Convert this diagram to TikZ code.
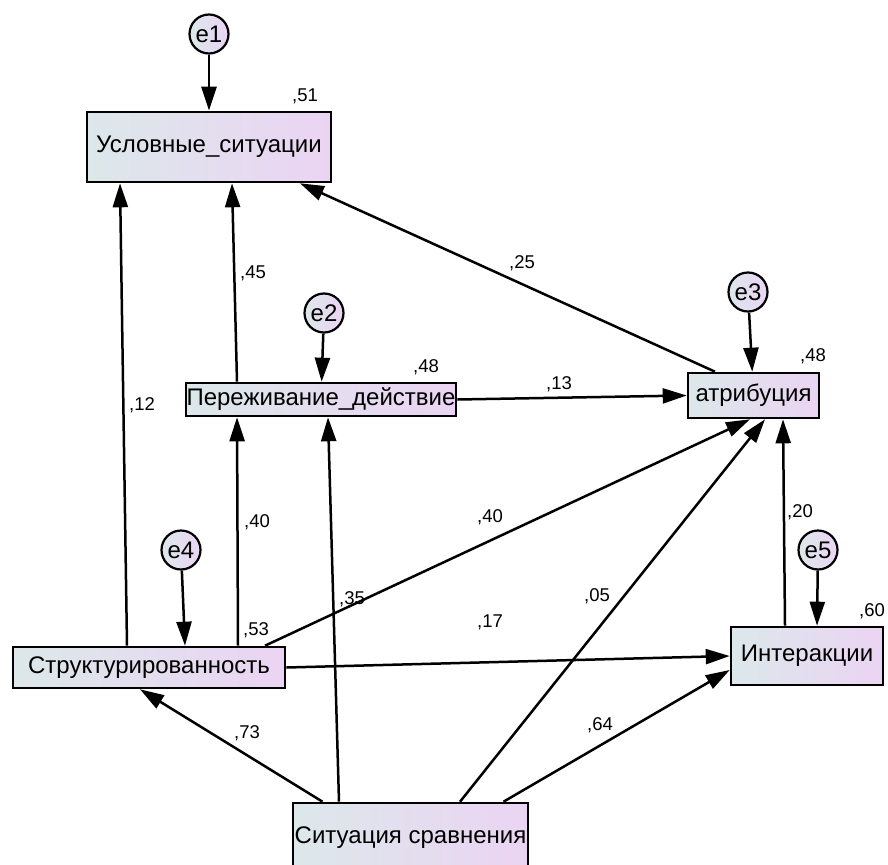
\documentclass[tikz,border=0pt]{standalone}
\usepackage{fontspec}
\setmainfont{Liberation Sans}
\usetikzlibrary{arrows.meta}
\definecolor{boxL}{RGB}{220,232,234}
\definecolor{boxR}{RGB}{235,212,243}

\begin{document}
\begin{tikzpicture}[x=1pt, y=-1pt,
  obs/.style={draw, line width=2.6pt, left color=boxL, right color=boxR, inner sep=0pt, font=\fontsize{24}{28}\selectfont},
  err/.style={draw, circle, line width=2.2pt, left color=boxL, right color=boxR, minimum size=39pt, inner sep=0pt, font=\fontsize{24}{26}\selectfont},
  reg/.style={line width=2.5pt, -{Triangle[length=24pt, width=15pt]}},
  coef/.style={font=\fontsize{18.5}{20}\selectfont, inner sep=0pt}]
  \useasboundingbox (0,0) rectangle (888,864);

  \node[obs, minimum width=244pt, minimum height=70pt] (usl) at (209,147) {Условные\_ситуации};
  \node[obs, minimum width=270pt, minimum height=33pt] (per) at (321,399.5) {Переживание\_действие};
  \node[obs, minimum width=131pt, minimum height=45pt] (atr) at (753.5,395.5) {атрибуция};
  \node[obs, minimum width=272pt, minimum height=41pt] (str) at (149,667.5) {Структурированность};
  \node[obs, minimum width=152pt, minimum height=58pt] (int) at (807,656) {Интеракции};
  \node[obs, minimum width=235pt, minimum height=70pt] (sit) at (410.5,838) {Ситуация сравнения};

  \node[err] (e1) at (209,34) {e1};
  \node[err] (e2) at (324,313) {e2};
  \node[err] (e3) at (748,292) {e3};
  \node[err] (e4) at (181,550) {e4};
  \node[err] (e5) at (818,550) {e5};

  \draw[reg] (e1) -- (usl);
  \draw[reg] (e2) -- (per);
  \draw[reg] (e3) -- (atr);
  \draw[reg] (e4) -- ([xshift=36]str.north);
  \draw[reg] (e5) -- ([xshift=10]int.north);

  \draw[reg] ([xshift=-22]str.north) -- ([xshift=-89]usl.south);
  \draw[reg] ([xshift=-84]per.north) -- ([xshift=23]usl.south);
  \draw[reg] ([xshift=-38.5]atr.north) -- ([xshift=91]usl.south);
  \draw[reg] (per.east) -- (atr.west);
  \draw[reg] ([xshift=89]str.north) -- ([xshift=-84]per.south);
  \draw[reg] ([xshift=116]str.north) -- ([xshift=-3.5]atr.south);
  \draw[reg] ([xshift=-71.5]sit.north) -- ([xshift=7]per.south);
  \draw[reg] ([xshift=49.5]sit.north) -- ([xshift=11.5]atr.south);
  \draw[reg] ([xshift=-22]int.north) -- ([xshift=29.5]atr.south);
  \draw[reg] (str.east) -- (int.west);
  \draw[reg] ([xshift=-88]sit.north) -- ([xshift=-9]str.south);
  \draw[reg] ([xshift=93]sit.north) -- ([yshift=-14]int.west);

  \node[coef] (r51) at (305,96) {,51};
  \node[coef] (r48a) at (426,367) {,48};
  \node[coef] (r48b) at (813,356) {,48};
  \node[coef] (r53) at (256,630) {,53};
  \node[coef] (r60) at (872,611) {,60};
  \node[coef] (b12) at (142,405) {,12};
  \node[coef] (b45) at (253,273) {,45};
  \node[coef] (b25) at (522,263) {,25};
  \node[coef] (b13) at (559,384) {,13};
  \node[coef] (b40a) at (257,522) {,40};
  \node[coef] (b40b) at (490,517) {,40};
  \node[coef] (b35) at (352,599) {,35};
  \node[coef] (b05) at (597,596) {,05};
  \node[coef] (b20) at (800,512) {,20};
  \node[coef] (b17) at (490,622) {,17};
  \node[coef] (b73) at (247,733) {,73};
  \node[coef] (b64) at (600,725) {,64};
\end{tikzpicture}
\end{document}
